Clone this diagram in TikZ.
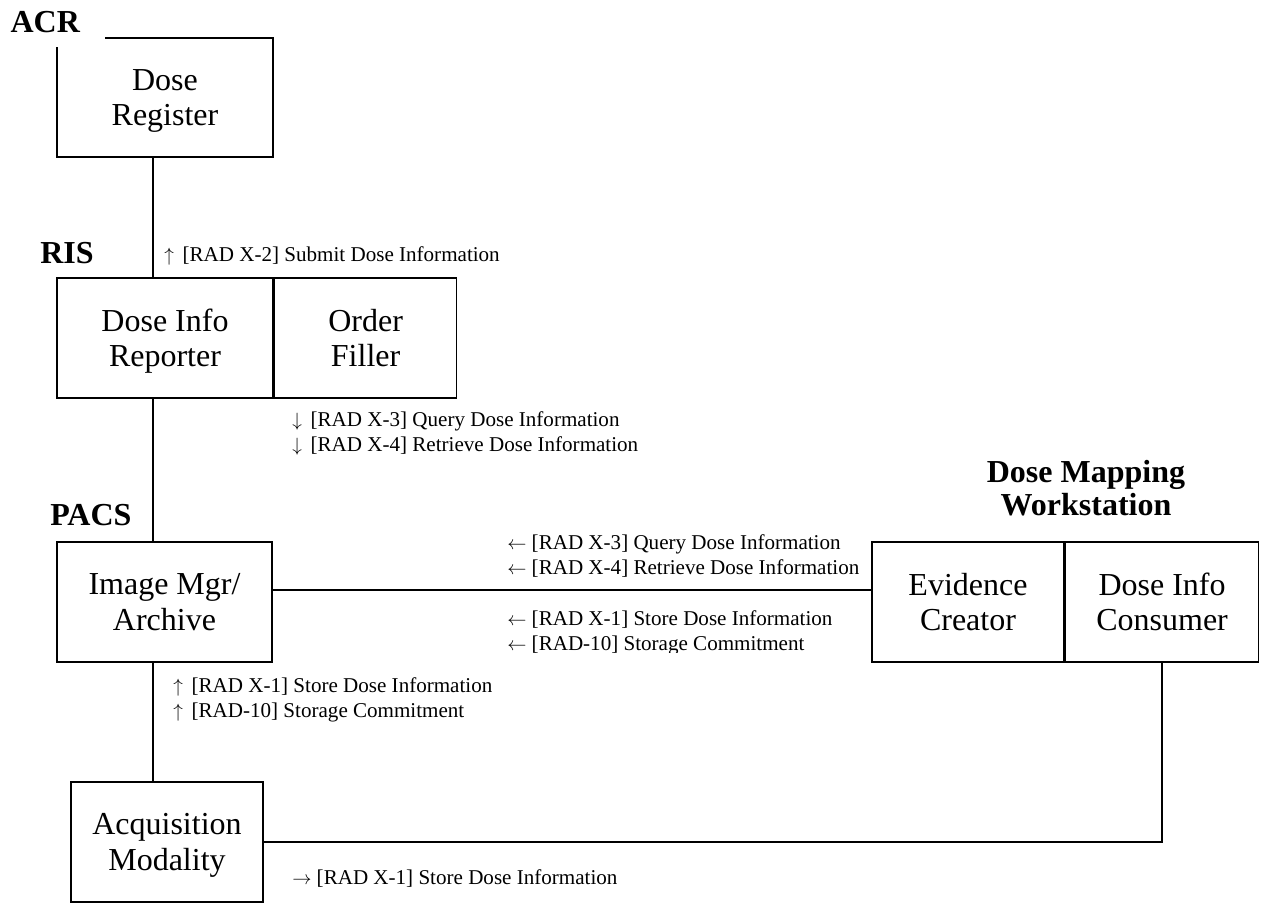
\documentclass[tikz,border=0pt]{standalone}
\usepackage{fontspec}
\setmainfont{Liberation Serif}
\usepackage{tikz}
\usetikzlibrary{positioning}

\newcommand{\boxfont}{\fontsize{24}{26.5}\selectfont}
\newcommand{\headfont}{\fontsize{24}{25}\selectfont\bfseries}
\newcommand{\msgfont}{\fontsize{15.8}{18.75}\selectfont}

\begin{document}
\begin{tikzpicture}[
    x=0.75pt, y=-0.75pt,
    actor/.style={rectangle, draw, line width=1.2pt, align=center, font=\boxfont, minimum height=90pt, inner sep=0pt, text depth=0pt},
    header/.style={font=\headfont, align=center},
    msg/.style={font=\msgfont, align=left, anchor=west, inner sep=0pt},
    link/.style={line width=1.2pt}
]
\useasboundingbox (0,0) rectangle (1261,903);

% Actors
\node[actor, minimum width=162pt, minimum height=89.25pt] (dosereg) at (165,97.5) {Dose\\Register};
\node[actor, minimum width=162pt] (reporter) at (165,338) {Dose Info\\Reporter};
\node[actor, minimum width=136.5pt, right=0pt of reporter] (filler) {Order\\Filler};
\node[actor, minimum width=161.25pt] (archive) at (164.5,602) {Image Mgr/\\Archive};
\node[actor, minimum width=144pt] (evidence) at (968,602) {Evidence\\Creator};
\node[actor, minimum width=144.75pt, right=0pt of evidence] (consumer) {Dose Info\\Consumer};
\node[actor, minimum width=144pt] (acq) at (167,842) {Acquisition\\Modality};

% Systems
\node[header, anchor=west, fill=white, inner xsep=19pt, minimum height=37.5pt] (acr) at (-15,22) {ACR};
\node[header, anchor=west, inner sep=0pt] (ris) at (40,253) {RIS};
\node[header, anchor=west, inner sep=0pt] (pacs) at (50,515) {PACS};
\node[header, inner sep=0pt] (dmw) at (1086,488) {Dose Mapping\\Workstation};

% Links
\coordinate (spine) at (153,0);
\coordinate (hline) at (0,590);
\draw[link] (dosereg.south -| spine) -- (reporter.north -| spine);
\draw[link] (reporter.south -| spine) -- (archive.north -| spine);
\draw[link] (archive.south -| spine) -- (acq.north -| spine);
\draw[link] (archive.east |- hline) -- (evidence.west |- hline);
\draw[link] (acq.east) -| (consumer.south);

% Transactions
\node[msg] (submit) at (164,256) {$\uparrow$\,\ [RAD X-2] Submit Dose Information};
\node[msg] (query) at (292,433) {$\downarrow$\,\ [RAD X-3] Query Dose Information\\$\downarrow$\,\ [RAD X-4] Retrieve Dose Information};
\node[msg] (retrieve) at (507,556) {$\leftarrow$\ [RAD X-3] Query Dose Information\\$\leftarrow$\ [RAD X-4] Retrieve Dose Information};
\begin{scope}
\clip (0,0) rectangle (1261,652);
\node[msg] (storews) at (507,633) {$\leftarrow$\ [RAD X-1] Store Dose Information\\$\leftarrow$\ [RAD-10] Storage Commitment};
\end{scope}
\node[msg] (storepacs) at (173,700) {$\uparrow$\,\ [RAD X-1] Store Dose Information\\$\uparrow$\,\ [RAD-10] Storage Commitment};
\node[msg] (storemod) at (292,878) {$\rightarrow$\ [RAD X-1] Store Dose Information};

\end{tikzpicture}
\end{document}
